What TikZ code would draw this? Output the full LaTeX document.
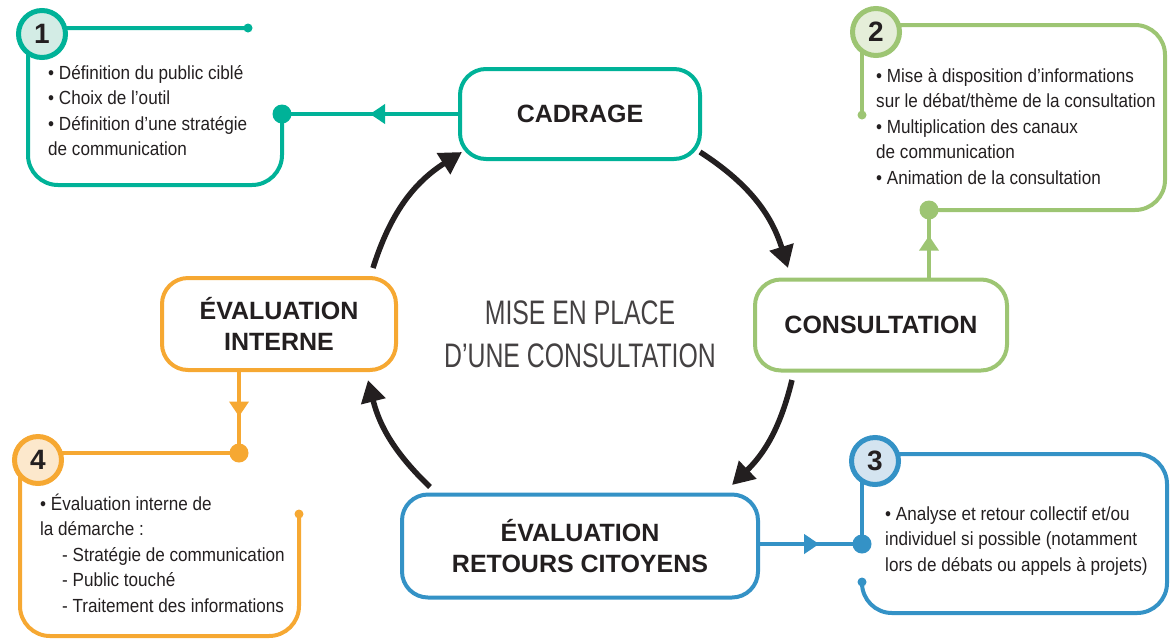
\documentclass[tikz,border=0pt]{standalone}
\usepackage{fontspec}
\setmainfont{Liberation Sans}
\newfontfamily\condf[FakeStretch=0.9]{Liberation Sans}
\newfontfamily\centf[FakeStretch=0.73]{Liberation Sans}
\usetikzlibrary{arrows.meta,decorations.markings,calc}
\definecolor{cteal}{RGB}{0,178,152}
\definecolor{cteall}{RGB}{211,236,229}
\definecolor{cgreen}{RGB}{157,197,115}
\definecolor{cgreenl}{RGB}{229,238,217}
\definecolor{cblue}{RGB}{52,146,198}
\definecolor{cbluel}{RGB}{212,228,240}
\definecolor{corange}{RGB}{246,168,50}
\definecolor{corangel}{RGB}{252,232,204}
\definecolor{ink}{RGB}{35,31,32}
\newcommand\txtblock[1]{\begin{tabular}[t]{@{}l@{}}#1\end{tabular}}
\tikzset{
 mainbox/.style={draw, line width=4pt, rounded corners=26pt, fill=white, align=center, text=ink, inner sep=0pt, font=\fontsize{25}{31}\selectfont\bfseries},
 cycarrow/.style={draw=ink, line width=5.5pt, -{Triangle[length=22pt,width=24pt]}},
 callout/.style={line width=4pt, rounded corners=30pt},
 numcirc/.style={circle, line width=5pt, minimum size=47pt, inner sep=0pt, text=ink, font=\fontsize{28}{28}\selectfont\bfseries},
 midarrow/.style={postaction={decorate}, decoration={markings, mark=at position #1 with {\arrow{Triangle[length=15pt,width=19pt]}}}},
 bodytext/.style={anchor=base west, inner sep=0pt, text=ink, font=\condf\fontsize{19}{25.5}\selectfont},
}
\begin{document}
\begin{tikzpicture}[x=1pt,y=-1pt]
\useasboundingbox (0,0) rectangle (1174,638);

% main nodes
\node[mainbox, draw=cteal, minimum width=240pt, minimum height=90pt] (cad) at (580,114) {CADRAGE};
\node[mainbox, draw=cgreen, minimum width=252pt, minimum height=91pt] (cons) at (881,325) {CONSULTATION};
\node[mainbox, draw=corange, minimum width=234pt, minimum height=92pt] (ei) at (279,324) {ÉVALUATION\\INTERNE};
\node[mainbox, draw=cblue, minimum width=356pt, minimum height=103pt] (ert) at (580,546) {ÉVALUATION\\RETOURS CITOYENS};

\node[align=center, text=ink!85, inner sep=0pt, font=\centf\fontsize{34}{43}\selectfont] (ctr) at (580,334) {MISE EN PLACE\\D’UNE CONSULTATION};

% cycle arrows
\coordinate (a1s) at (373,268); \coordinate (a1e) at (462,152);
\coordinate (a2s) at (700,152); \coordinate (a2e) at (788,268);
\coordinate (a3s) at (792,380); \coordinate (a3e) at (732,485);
\coordinate (a4s) at (430,487); \coordinate (a4e) at (368,380);
\draw[cycarrow] (a1s) to[bend left=20] (a1e);
\draw[cycarrow] (a2s) to[bend left=20] (a2e);
\draw[cycarrow] (a3s) to[bend left=16] (a3e);
\draw[cycarrow] (a4s) to[bend left=16] (a4e);

% callout 1 (teal)
\coordinate (d1) at (282,114);
\coordinate (e1) at (248,28);
\draw[callout, cteal] (e1) -- (28,28) -- (28,185) -- (282,185) -- (d1);
\draw[line width=4pt, cteal, midarrow=0.5] (cad.west) -- (d1);
\fill[cteal] (d1) circle[radius=9.5pt];
\fill[cteal] (e1) circle[radius=4.5pt];
\node[numcirc, draw=cteal, fill=cteall] (n1) at (42,34) {1};
\node[bodytext] (t1) at (48,79) {\txtblock{• Définition du public ciblé\\• Choix de l’outil\\• Définition d’une stratégie\\de communication}};

% callout 2 (green)
\coordinate (d2) at (929,210);
\coordinate (e2) at (862,115);
\draw[line width=4pt, cgreen] (862,40) -- (e2);
\draw[callout, cgreen] (880,25) -- (1165,25) -- (1165,210) -- (d2);
\draw[line width=4pt, cgreen, midarrow=0.62] (d2 |- cons.north) -- (d2);
\fill[cgreen] (d2) circle[radius=9.5pt];
\fill[cgreen] (e2) circle[radius=4.5pt];
\node[numcirc, draw=cgreen, fill=cgreenl] (n2) at (876,32) {2};
\node[bodytext] (t2) at (876,82) {\txtblock{• Mise à disposition d’informations\\sur le débat/thème de la consultation\\• Multiplication des canaux\\de communication\\• Animation de la consultation}};

% callout 3 (blue)
\coordinate (d3) at (862,544);
\coordinate (e3) at (862,582);
\draw[line width=4pt, cblue] (862,465) -- (d3);
\draw[callout, cblue] (880,454) -- (1167,454) -- (1167,613) -- (862,613) -- (e3);
\draw[line width=4pt, cblue, midarrow=0.58] (d3 -| ert.east) -- (d3);
\fill[cblue] (d3) circle[radius=9.5pt];
\fill[cblue] (e3) circle[radius=4.5pt];
\node[numcirc, draw=cblue, fill=cbluel] (n3) at (875,461) {3};
\node[bodytext] (t3) at (885,520) {\txtblock{• Analyse et retour collectif et/ou\\individuel si possible (notamment\\lors de débats ou appels à projets)}};

% callout 4 (orange)
\coordinate (d4) at (239,453);
\coordinate (e4) at (299,514);
\draw[line width=4pt, corange] (40,453) -- (d4);
\draw[callout, corange] (20,465) -- (20,636) -- (299,636) -- (e4);
\draw[line width=4pt, corange, midarrow=0.55] (d4 |- ei.south) -- (d4);
\fill[corange] (d4) circle[radius=9.5pt];
\fill[corange] (e4) circle[radius=4.5pt];
\node[numcirc, draw=corange, fill=corangel] (n4) at (38,460) {4};
\node[bodytext] (t4) at (40,510) {\txtblock{• Évaluation interne de\\la démarche :\\\hspace{22pt}- Stratégie de communication\\\hspace{22pt}- Public touché\\\hspace{22pt}- Traitement des informations}};
\end{tikzpicture}
\end{document}
